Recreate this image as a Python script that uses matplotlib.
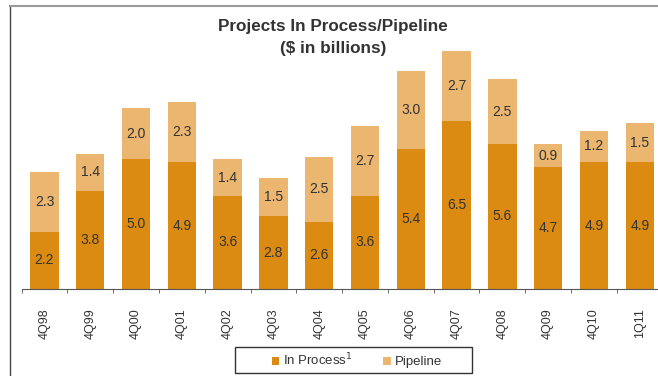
import numpy as np
import matplotlib.pyplot as plt
from matplotlib.lines import Line2D
from matplotlib.patches import Rectangle

quarters = ["4Q98", "4Q99", "4Q00", "4Q01", "4Q02", "4Q03", "4Q04",
            "4Q05", "4Q06", "4Q07", "4Q08", "4Q09", "4Q10", "1Q11"]
in_process = [2.2, 3.8, 5.0, 4.9, 3.6, 2.8, 2.6, 3.6, 5.4, 6.5, 5.6, 4.7, 4.9, 4.9]
pipeline = [2.3, 1.4, 2.0, 2.3, 1.4, 1.5, 2.5, 2.7, 3.0, 2.7, 2.5, 0.9, 1.2, 1.5]

dark = "#DB8B12"
light = "#EAB670"
txt = "#333333"

plt.rcParams["font.family"] = ["Liberation Sans", "DejaVu Sans"]

W, H = 658, 376
fig = plt.figure(figsize=(W / 100, H / 100), dpi=100)
ax = fig.add_axes([21.6 / W, 87 / H, 641 / W, 249 / H])

x = np.arange(len(quarters))
w = 0.62
ax.bar(x, in_process, w, color=dark, label="In Process$^{1}$")
ax.bar(x, pipeline, w, bottom=in_process, color=light, label="Pipeline")

for i in range(len(quarters)):
    ax.text(x[i], in_process[i] / 2, f"{in_process[i]:.1f}", ha="center", va="center",
            fontsize=10, color=txt)
    ax.text(x[i], in_process[i] + pipeline[i] / 2, f"{pipeline[i]:.1f}", ha="center",
            va="center", fontsize=10, color=txt)

ax.set_xlim(-0.5, len(quarters) - 0.5)
ax.set_ylim(0, 9.61)
ax.set_yticks([])
for s in ["top", "right", "left"]:
    ax.spines[s].set_visible(False)
ax.spines["bottom"].set_color("#555555")

ax.set_xticks(x)
ax.set_xticklabels(quarters, rotation=90, fontsize=9, color=txt)
ax.tick_params(axis="x", which="major", length=0, pad=14)
ax.set_xticks(np.arange(len(quarters) + 1) - 0.5, minor=True)
ax.tick_params(axis="x", which="minor", length=3, color="#555555", direction="out")

fig.text(333 / W, 1 - 27 / H, "Projects In Process/Pipeline", ha="center", va="center",
         fontsize=12.3, fontweight="bold", color=txt)
fig.text(333 / W, 1 - 49 / H, "($ in billions)", ha="center", va="center",
         fontsize=12.3, fontweight="bold", color=txt)

leg = fig.legend(loc="center", bbox_to_anchor=(357 / W, 1 - 360 / H), ncol=2,
                 fontsize=9.5, frameon=False,
                 handlelength=0.55, handleheight=0.55, handletextpad=0.3, columnspacing=2.3)
for t in leg.get_texts():
    t.set_color(txt)
fig.add_artist(Rectangle((235 / W, 1 - 373 / H), 237 / W, 26 / H, transform=fig.transFigure,
                         fill=False, edgecolor="#333333", lw=1))

# outer frame lines
fig.add_artist(Line2D([9.5 / W, 9.5 / W], [0, 1 - 6 / H], transform=fig.transFigure,
                      color="#444444", lw=1))
fig.add_artist(Line2D([9.5 / W, 1], [1 - 6 / H, 1 - 6 / H], transform=fig.transFigure,
                      color="#999999", lw=1.5))

fig.savefig("out.png", dpi=100)
